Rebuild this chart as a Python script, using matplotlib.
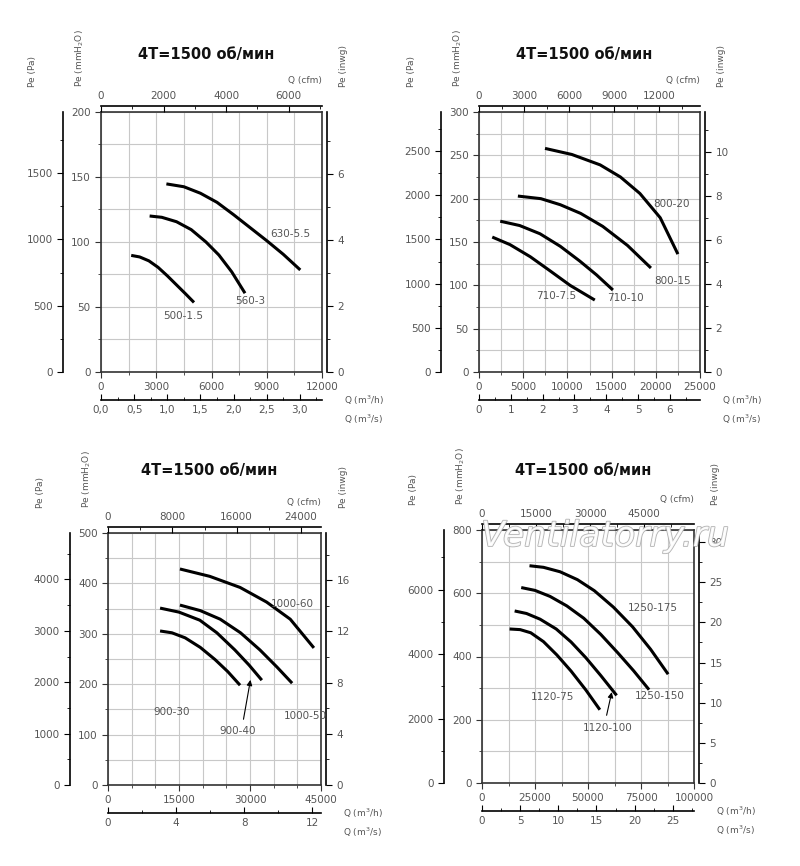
import matplotlib
matplotlib.use("Agg")
import matplotlib.pyplot as plt
import matplotlib.patheffects as pe
from matplotlib.ticker import MultipleLocator, FuncFormatter

W, H = 800, 866
fig = plt.figure(figsize=(8, 8.66), dpi=100)

TITLE = "4T=1500 об/мин"
GREY = "#555555"

# ---- data (Q in m3/h, Pe in mmH2O) ----
tl_names = ["500-1.5", "560-3", "630-5.5"]
tl_q = [[1640, 2100, 2600, 3100, 3600, 4100, 4600, 5050],
        [2640, 3300, 4100, 4900, 5700, 6400, 7100, 7820],
        [3550, 4500, 5400, 6300, 7200, 8100, 9000, 9900, 10820]]
tl_p = [[89.7, 88.5, 85.5, 80.5, 74, 67, 60, 53.5],
        [120, 119, 115.6, 109.5, 100, 90, 77, 60.6],
        [144.7, 142.5, 137.5, 130.5, 121, 111, 101, 90.5, 78.5]]

tr_names = ["710-7.5", "710-10", "800-15", "800-20"]
tr_q = [[1500, 3500, 5800, 8000, 10300, 13100],
        [2400, 4600, 6900, 9200, 11400, 13300, 15150],
        [4400, 7000, 9200, 11500, 14000, 16800, 19450],
        [7470, 10500, 13700, 16000, 18200, 20500, 22500]]
tr_p = [[155.7, 147, 133, 117, 100, 83],
        [174, 169, 159.5, 145, 128, 112, 94.6],
        [203, 200, 193, 183, 168, 146, 120],
        [258, 251, 239, 225, 206, 178, 136]]

bl_names = ["900-30", "900-40", "1000-50", "1000-60"]
bl_q = [[11000, 13500, 16300, 19500, 22600, 25300, 27900],
        [11000, 15000, 19400, 23000, 26800, 29800, 32500],
        [15200, 19500, 23700, 28000, 32100, 35700, 38900],
        [15200, 21500, 27900, 33500, 38500, 43500]]
bl_p = [[305.6, 302, 292, 273, 249, 225, 198],
        [351, 343, 327, 302, 268, 238, 208],
        [357, 346, 329, 302, 268, 234, 202],
        [428.6, 414, 392, 363, 329, 272]]

br_names = ["1120-75", "1120-100", "1250-150", "1250-175"]
br_q = [[13000, 18000, 23000, 29000, 35300, 42000, 49000, 55600],
        [15400, 21000, 27400, 35000, 42000, 49000, 56000, 63500],
        [18500, 25000, 32100, 40000, 48000, 56000, 64000, 71500, 78800],
        [22400, 29000, 36800, 45000, 53000, 62000, 71000, 79500, 87800]]
br_p = [[487, 485, 475, 447, 405, 354, 294, 231.6],
        [544, 536, 518, 487, 446, 396, 340, 277],
        [618, 609, 590, 560, 521, 470, 412, 355, 295],
        [687, 682, 668, 643, 608, 556, 494, 423, 344]]


def pxax(x0, y0, x1, y1):
    return fig.add_axes([x0 / W, 1 - y1 / H, (x1 - x0) / W, (y1 - y0) / H])


def pt(px):
    return px * 0.72


def comma(v, _):
    return ("%.1f" % v).replace(".", ",")


def panel(box, xmax, ymax, xgrid, ygrid, xmaj, ymaj, pamaj, inmaj, cfmmaj, m3smaj,
          names, qs, ps, labels, comma_fmt=False, arrows=(), title_dy=57):
    x0, y0, x1, y1 = box
    ax = pxax(*box)
    ax.set_xlim(0, xmax)
    ax.set_ylim(0, ymax)
    ax.xaxis.set_major_locator(MultipleLocator(xmaj))
    ax.xaxis.set_minor_locator(MultipleLocator(xgrid))
    ax.yaxis.set_major_locator(MultipleLocator(ymaj))
    ax.yaxis.set_minor_locator(MultipleLocator(ygrid))
    ax.grid(True, which="both", color="#c8c8c8", lw=0.8)
    ax.set_axisbelow(True)
    for s in ax.spines.values():
        s.set_color("#333333"); s.set_linewidth(1.2)
    ax.tick_params(which="both", colors="#333333", labelcolor=GREY, labelsize=7.5, length=4)
    ax.tick_params(which="minor", length=2.5)
    for q, p in zip(qs, ps):
        ax.plot(q, p, color="black", lw=2.2, solid_capstyle="butt", solid_joinstyle="round")
    for (t, xp, yp) in labels:
        fig.text(xp / W, 1 - yp / H, t, fontsize=7.5, color=GREY, ha="center", va="center")
    for (tx, ty, hx, hy) in arrows:
        ax.annotate("", xy=(hx, hy), xycoords="data", xytext=(tx / W, 1 - ty / H), textcoords="figure fraction",
                    arrowprops=dict(arrowstyle="-|>", color="black", lw=0.8, mutation_scale=8))

    apa = ax.twinx()
    apa.set_ylim(0, ymax * 9.80665)
    apa.yaxis.set_ticks_position("left")
    for k, s in apa.spines.items():
        s.set_visible(k == "left")
    apa.spines["left"].set_position(("outward", pt(38)))
    apa.spines["left"].set_linewidth(1.2)
    apa.yaxis.set_major_locator(MultipleLocator(pamaj))
    apa.yaxis.set_minor_locator(MultipleLocator(pamaj / 2))
    apa.tick_params(which="both", labelcolor=GREY, labelsize=7.5, length=4)
    apa.tick_params(which="minor", length=2.5)

    ain = ax.twinx()
    ain.set_ylim(0, ymax / 25.4)
    for k, s in ain.spines.items():
        s.set_visible(k == "right")
    ain.spines["right"].set_position(("outward", pt(5)))
    ain.spines["right"].set_linewidth(1.2)
    ain.yaxis.set_major_locator(MultipleLocator(inmaj))
    ain.yaxis.set_minor_locator(MultipleLocator(inmaj / 2))
    ain.tick_params(which="both", labelcolor=GREY, labelsize=7.5, length=4)
    ain.tick_params(which="minor", length=2.5)

    acf = ax.twiny()
    acf.set_xlim(0, xmax / 1.699)
    for k, s in acf.spines.items():
        s.set_visible(k == "top")
    acf.spines["top"].set_position(("outward", pt(6)))
    acf.spines["top"].set_linewidth(1.2)
    acf.xaxis.set_major_locator(MultipleLocator(cfmmaj))
    acf.xaxis.set_minor_locator(MultipleLocator(cfmmaj / 2))
    acf.tick_params(which="both", labelcolor=GREY, labelsize=7.5, length=4, direction="in")
    acf.tick_params(which="minor", length=2.5)

    ams = ax.twiny()
    ams.set_xlim(0, xmax / 3600)
    ams.xaxis.set_ticks_position("bottom")
    for k, s in ams.spines.items():
        s.set_visible(k == "bottom")
    ams.spines["bottom"].set_position(("outward", pt(28)))
    ams.spines["bottom"].set_linewidth(1.2)
    ams.xaxis.set_major_locator(MultipleLocator(m3smaj))
    ams.xaxis.set_minor_locator(MultipleLocator(m3smaj / 2))
    ams.tick_params(which="both", labelcolor=GREY, labelsize=7.5, length=4, direction="in")
    ams.tick_params(which="minor", length=2.5)
    if comma_fmt:
        ams.xaxis.set_major_formatter(FuncFormatter(comma))

    kw = dict(fontsize=6.5, color=GREY)
    fig.text((x0 - 68) / W, 1 - (y0 - 25) / H, "Pe (Pa)", rotation=90, ha="center", va="bottom", **kw)
    fig.text((x0 - 21) / W, 1 - (y0 - 25) / H, "Pe (mmH$_2$O)", rotation=90, ha="center", va="bottom", **kw)
    fig.text((x1 + 22) / W, 1 - (y0 - 25) / H, "Pe (inwg)", rotation=90, ha="center", va="bottom", **kw)
    fig.text(x1 / W, 1 - (y0 - 31) / H, "Q (cfm)", ha="right", va="center", **kw)
    fig.text((x1 + 22) / W, 1 - (y1 + 28) / H, "Q (m$^3$/h)", ha="left", va="center", **kw)
    fig.text((x1 + 22) / W, 1 - (y1 + 47) / H, "Q (m$^3$/s)", ha="left", va="center", **kw)
    fig.text(((x0 + x1) / 2 - 5) / W, 1 - (y0 - title_dy) / H, TITLE, fontsize=10.5, fontweight="bold",
             ha="center", va="center", color="#111111")
    return ax


panel((101, 112, 322, 372), 12000, 200, 1500, 25, 3000, 50, 500, 2, 2000, 0.5,
      tl_names, tl_q, tl_p,
      [("500-1.5", 183, 316), ("560-3", 250, 301), ("630-5.5", 290, 234)], comma_fmt=True)

panel((479, 112, 700, 372), 25000, 300, 2500, 25, 5000, 50, 500, 2, 3000, 1,
      tr_names, tr_q, tr_p,
      [("710-7.5", 556, 296), ("710-10", 625, 298), ("800-15", 673, 281), ("800-20", 672, 204)])

panel((108, 533, 321, 785), 45000, 500, 5000, 50, 15000, 100, 1000, 4, 8000, 4,
      bl_names, bl_q, bl_p,
      [("900-30", 172, 712), ("900-40", 238, 731), ("1000-50", 305, 716), ("1000-60", 292, 604)],
      arrows=[(243, 722, 30200, 214)], title_dy=63)

panel((482, 530, 694, 783), 100000, 800, 12500, 100, 25000, 200, 2000, 5, 15000, 5,
      br_names, br_q, br_p,
      [("1120-75", 552, 697), ("1120-100", 608, 728), ("1250-150", 660, 696), ("1250-175", 653, 608)],
      arrows=[(606, 718, 61500, 296)], title_dy=60)

wm = fig.text(605 / W, 1 - 536 / H, "Ventilatorry.ru", fontsize=25, style="italic", color="white",
              ha="center", va="center", alpha=0.9)
wm.set_path_effects([pe.Stroke(linewidth=1.2, foreground="#aaaaaa"), pe.Normal()])

fig.savefig("out.png", dpi=100, facecolor="white")
